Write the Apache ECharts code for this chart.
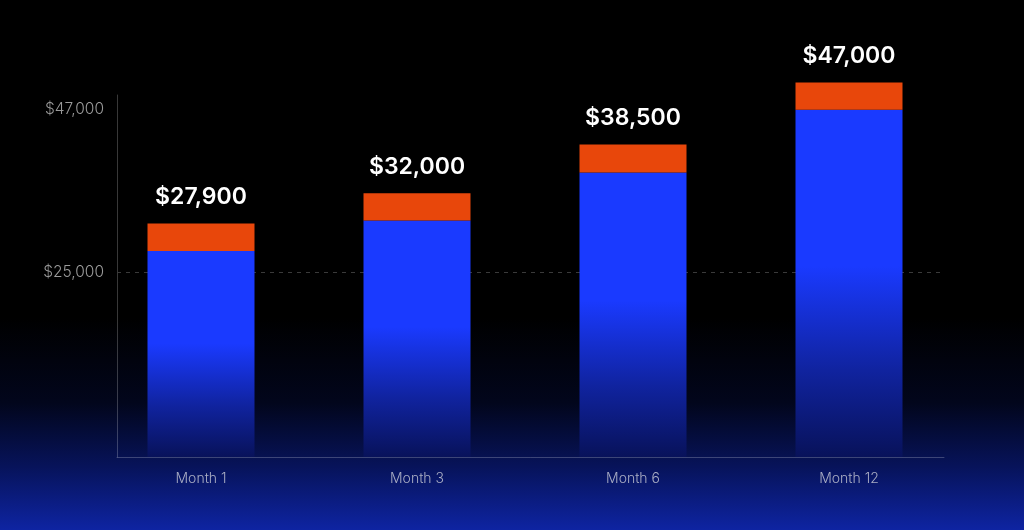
<!DOCTYPE html>
<html>
<head>
<meta charset="utf-8">
<script src="https://cdn.jsdelivr.net/npm/echarts@6/dist/echarts.min.js"></script>
<style>
  html, body { margin: 0; padding: 0; background: #000; }
  #chart { width: 1024px; height: 530px; }
</style>
</head>
<body>
<div id="chart"></div>
<script>
// data
const months = ['Month 1', 'Month 3', 'Month 6', 'Month 12'];
const baseValues = [27900, 32000, 38500, 47000];   // blue part, also the label
const topValues = [3700, 3700, 3800, 3700];        // orange cap on top
const yTicks = [25000, 47000];
const refLine = 25000;

const fmt = v => '$' + v.toLocaleString('en-US');

const chart = echarts.init(document.getElementById('chart'), null, { renderer: 'canvas' });

// both grids share bottom, pixel per value is kept equal
const bottom = 73;
const frameTop = 95;
const frameMax = 49000;
const pxPerVal = (530 - bottom - frameTop) / frameMax;
const barMax = 60000;
const barTop = 530 - bottom - barMax * pxPerVal;

const option = {
  animation: false,
  backgroundColor: new echarts.graphic.LinearGradient(0, 0, 0, 1, [
    { offset: 0, color: '#000000' },
    { offset: 0.6, color: '#000000' },
    { offset: 0.76, color: '#02061c' },
    { offset: 0.88, color: '#07135a' },
    { offset: 1, color: '#0e24a2' }
  ]),
  textStyle: { fontFamily: 'Inter, "Noto Sans", sans-serif' },
  grid: [
    // bars
    { left: 93, right: 67, top: barTop, bottom: bottom },
    // axis frame
    { left: 117, right: 80, top: frameTop, bottom: bottom }
  ],
  xAxis: [
    {
      type: 'category',
      gridIndex: 0,
      data: months,
      axisLine: { show: false },
      axisTick: { show: false },
      axisLabel: {
        color: '#a9adc4',
        fontSize: 14,
        fontWeight: 300,
        margin: 15
      }
    },
    {
      type: 'category',
      gridIndex: 1,
      data: months,
      axisLine: { show: true, lineStyle: { color: 'rgba(255,255,255,0.22)', width: 1 } },
      axisTick: { show: false },
      axisLabel: { show: false }
    }
  ],
  yAxis: [
    {
      type: 'value',
      gridIndex: 0,
      min: 0,
      max: barMax,
      show: false
    },
    {
      type: 'value',
      gridIndex: 1,
      min: 0,
      max: frameMax,
      axisLine: { show: true, lineStyle: { color: 'rgba(255,255,255,0.22)', width: 1 } },
      axisTick: { show: false },
      splitLine: { show: false },
      axisLabel: {
        customValues: yTicks,
        formatter: v => fmt(v),
        color: '#9a9a9a',
        fontSize: 15.5,
        fontWeight: 300,
        margin: 13
      }
    }
  ],
  series: [
    {
      name: 'ref',
      type: 'line',
      xAxisIndex: 1,
      yAxisIndex: 1,
      data: [],
      silent: true,
      z: 1,
      markLine: {
        silent: true,
        symbol: 'none',
        label: { show: false },
        lineStyle: { color: '#3a3a3a', type: [4, 5], width: 1 },
        data: [{ yAxis: refLine }]
      }
    },
    {
      name: 'base',
      type: 'bar',
      xAxisIndex: 0,
      yAxisIndex: 0,
      stack: 'total',
      barWidth: 107,
      z: 5,
      itemStyle: {
        color: new echarts.graphic.LinearGradient(0, 0, 0, 1, [
          { offset: 0, color: '#1a3aff' },
          { offset: 0.45, color: '#1a3aff' },
          { offset: 0.75, color: '#10239f' },
          { offset: 1, color: '#08125a' }
        ])
      },
      data: baseValues
    },
    {
      name: 'top',
      type: 'bar',
      xAxisIndex: 0,
      yAxisIndex: 0,
      stack: 'total',
      barWidth: 107,
      z: 5,
      itemStyle: { color: '#e8470b' },
      label: {
        show: true,
        position: 'top',
        distance: 15,
        color: '#ffffff',
        fontSize: 23,
        fontWeight: 600,
        formatter: p => fmt(baseValues[p.dataIndex])
      },
      data: topValues
    }
  ]
};

chart.setOption(option);
</script>
</body>
</html>
